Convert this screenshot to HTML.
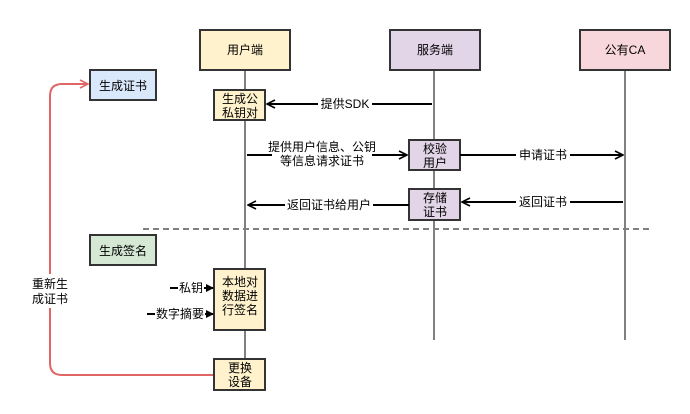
<!DOCTYPE html>
<html><head><meta charset="utf-8"><style>
html,body{margin:0;padding:0;background:#fff;}
svg{display:block;}
text{font-family:"Liberation Sans","Noto Sans CJK SC",sans-serif;font-size:12px;fill:#000;}
</style></head><body>
<svg width="690" height="414" viewBox="0 0 690 414" xmlns="http://www.w3.org/2000/svg">
<defs>
<marker id="a" markerWidth="10" markerHeight="10" refX="9" refY="5" orient="auto" markerUnits="userSpaceOnUse">
<path d="M1,1 L9,5 L1,9" fill="none" stroke="#000" stroke-width="1.6"/></marker>
<marker id="r" markerWidth="10" markerHeight="10" refX="9" refY="5" orient="auto" markerUnits="userSpaceOnUse">
<path d="M1,1 L9,5 L1,9" fill="none" stroke="#e06666" stroke-width="1.6"/></marker>
<marker id="t" markerWidth="8" markerHeight="8" refX="7" refY="4" orient="auto" markerUnits="userSpaceOnUse">
<path d="M0,0 L8,4 L0,8 Z" fill="#000"/></marker>
</defs>
<!-- lifelines -->
<line x1="245" y1="70" x2="245" y2="360" stroke="#808080" stroke-width="2"/>
<line x1="434" y1="70" x2="434" y2="340" stroke="#808080" stroke-width="2"/>
<line x1="625" y1="70" x2="625" y2="340" stroke="#808080" stroke-width="2"/>
<!-- dashed -->
<line x1="143" y1="229" x2="652" y2="229" stroke="#808080" stroke-width="2" stroke-dasharray="6,4"/>
<!-- headers -->
<rect x="200" y="30" width="90" height="40" fill="#fff2cc" stroke="#333" stroke-width="2"/>
<text x="245" y="54" text-anchor="middle">用户端</text>
<rect x="390" y="30" width="90" height="40" fill="#e1d5e7" stroke="#333" stroke-width="2"/>
<text x="435" y="54" text-anchor="middle">服务端</text>
<rect x="580" y="30" width="90" height="40" fill="#f8d7dc" stroke="#333" stroke-width="2"/>
<text x="625" y="54" text-anchor="middle">公有CA</text>
<!-- side boxes -->
<rect x="90" y="70" width="66" height="30" fill="#dae8fc" stroke="#333" stroke-width="2"/>
<text x="123" y="90" text-anchor="middle">生成证书</text>
<rect x="90" y="235" width="66" height="30" fill="#d5e8d4" stroke="#333" stroke-width="2"/>
<text x="123" y="255" text-anchor="middle">生成签名</text>
<!-- red path -->
<path d="M214,375 L62,375 Q50,375 50,363 L50,96 Q50,84 62,84 L88,84" fill="none" stroke="#e06666" stroke-width="2" marker-end="url(#r)"/>
<rect x="28" y="274" width="44" height="34" fill="#fff"/>
<text x="50" y="288" text-anchor="middle">重新生</text>
<text x="50" y="303" text-anchor="middle">成证书</text>
<!-- activation boxes -->
<rect x="214" y="90" width="51" height="30" fill="#fff2cc" stroke="#333" stroke-width="2"/>
<text x="240" y="103" text-anchor="middle">生成公</text>
<text x="240" y="117" text-anchor="middle">私钥对</text>
<rect x="409" y="140" width="51" height="30" fill="#e1d5e7" stroke="#333" stroke-width="2"/>
<text x="435" y="153" text-anchor="middle">校验</text>
<text x="435" y="167" text-anchor="middle">用户</text>
<rect x="409" y="189" width="51" height="31" fill="#e1d5e7" stroke="#333" stroke-width="2"/>
<text x="435" y="202" text-anchor="middle">存储</text>
<text x="435" y="216" text-anchor="middle">证书</text>
<rect x="214" y="269" width="51" height="61" fill="#fff2cc" stroke="#333" stroke-width="2"/>
<text x="240" y="286" text-anchor="middle">本地对</text>
<text x="240" y="300" text-anchor="middle">数据进</text>
<text x="240" y="314" text-anchor="middle">行签名</text>
<rect x="214" y="359" width="51" height="31" fill="#fff2cc" stroke="#333" stroke-width="2"/>
<text x="240" y="372" text-anchor="middle">更换</text>
<text x="240" y="386" text-anchor="middle">设备</text>
<!-- arrows -->
<line x1="432" y1="104" x2="267" y2="104" stroke="#000" stroke-width="2" marker-end="url(#a)"/>
<rect x="318" y="96" width="54" height="16" fill="#fff"/>
<text x="345" y="108" text-anchor="middle">提供SDK</text>
<line x1="247" y1="155" x2="407" y2="155" stroke="#000" stroke-width="2" marker-end="url(#a)"/>
<rect x="272" y="140" width="100" height="30" fill="#fff"/>
<text x="322" y="151" text-anchor="middle">提供用户信息、公钥</text>
<text x="322" y="165" text-anchor="middle">等信息请求证书</text>
<line x1="460" y1="155" x2="623" y2="155" stroke="#000" stroke-width="2" marker-end="url(#a)"/>
<rect x="516" y="147" width="54" height="16" fill="#fff"/>
<text x="543" y="159" text-anchor="middle">申请证书</text>
<line x1="623" y1="202" x2="462" y2="202" stroke="#000" stroke-width="2" marker-end="url(#a)"/>
<rect x="516" y="194" width="54" height="16" fill="#fff"/>
<text x="543" y="206" text-anchor="middle">返回证书</text>
<line x1="409" y1="205" x2="248" y2="205" stroke="#000" stroke-width="2" marker-end="url(#a)"/>
<rect x="285" y="197" width="88" height="16" fill="#fff"/>
<text x="329" y="209" text-anchor="middle">返回证书给用户</text>
<!-- inputs -->
<line x1="170" y1="288" x2="213" y2="288" stroke="#000" stroke-width="2" marker-end="url(#t)"/>
<rect x="178" y="280" width="26" height="16" fill="#fff"/>
<text x="191" y="292" text-anchor="middle">私钥</text>
<line x1="147" y1="314" x2="213" y2="314" stroke="#000" stroke-width="2" marker-end="url(#t)"/>
<rect x="155" y="306" width="50" height="16" fill="#fff"/>
<text x="180" y="318" text-anchor="middle">数字摘要</text>
</svg>
</body></html>
